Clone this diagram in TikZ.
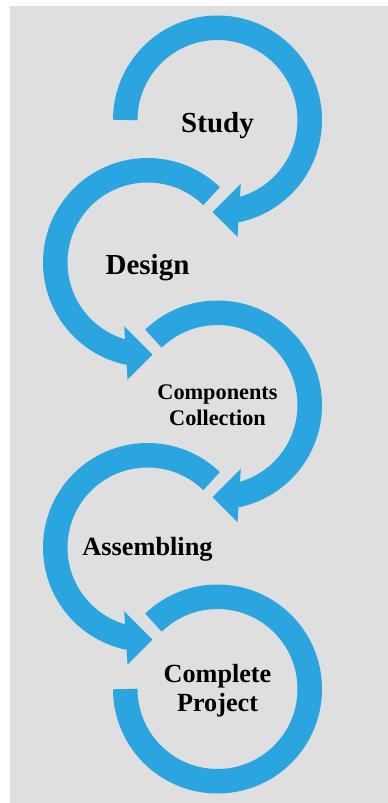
\documentclass[tikz,border=0pt]{standalone}
\usepackage{fontspec}
\setmainfont{Liberation Serif}
\usetikzlibrary{calc}
\definecolor{ringblue}{RGB}{43,165,223}
\definecolor{bggrey}{RGB}{223,223,223}
\begin{document}
\begin{tikzpicture}[x=1pt,y=1pt,
  ring/.style={draw=ringblue,line width=24.5pt,line cap=butt},
  headR/.style={fill=ringblue},
  label/.style={font=\bfseries,text=black,inner sep=0pt,align=center}]
\useasboundingbox (0,0) rectangle (388,-803);
\fill[white] (0,0) rectangle (388,-803);
\fill[bggrey] (10,-6) rectangle (388,-803);
% centres
\coordinate (c1) at (217.5,-120);
\coordinate (c2) at (147.5,-262.5);
\coordinate (c3) at (217.5,-405);
\coordinate (c4) at (147.5,-547.5);
\coordinate (c5) at (217.5,-689);
% ring 1 (Study)
\draw[ring] (c1) ++(180:92.25) arc[start angle=180,end angle=-78.5,radius=92.25];
\fill[headR] ($(c1)+(23.3,-63.8)$) -- ($(c1)+(-5,-92)$) -- ($(c1)+(20,-117)$) -- cycle;
% ring 2 (Design)
\draw[ring] (c2) ++(46:92.25) arc[start angle=46,end angle=258.5,radius=92.25];
\fill[headR] ($(c2)+(-23.3,-63.8)$) -- ($(c2)+(5,-92)$) -- ($(c2)+(-20,-117)$) -- cycle;
% ring 3 (Components)
\draw[ring] (c3) ++(134:92.25) arc[start angle=134,end angle=-78.5,radius=92.25];
\fill[headR] ($(c3)+(23.3,-63.8)$) -- ($(c3)+(-5,-92)$) -- ($(c3)+(20,-117)$) -- cycle;
% ring 4 (Assembling)
\draw[ring] (c4) ++(46:92.25) arc[start angle=46,end angle=258.5,radius=92.25];
\fill[headR] ($(c4)+(-23.3,-63.8)$) -- ($(c4)+(5,-92)$) -- ($(c4)+(-20,-117)$) -- cycle;
% ring 5 (Complete project)
\draw[ring] (c5) ++(134:92.25) arc[start angle=134,end angle=-180,radius=92.25];
% labels
\node[label,anchor=base,font=\bfseries\fontsize{29}{34}\selectfont] (study) at (217.5,-132.3) {Study};
\node[label,anchor=base,font=\bfseries\fontsize{29}{34}\selectfont] (design) at (147.5,-274) {Design};
\node[label,anchor=base,font=\bfseries\fontsize{22.3}{26}\selectfont] (comp1) at (217.5,-399.3) {Components};
\node[label,anchor=base,font=\bfseries\fontsize{22.3}{26}\selectfont] (comp2) at (217.5,-425) {Collection};
\node[label,anchor=base,font=\bfseries\fontsize{26.3}{30}\selectfont] (assem) at (147.5,-555.5) {Assembling};
\node[label,anchor=base,font=\bfseries\fontsize{26.2}{30}\selectfont] (compl1) at (217.5,-682.3) {Complete};
\node[label,anchor=base,font=\bfseries\fontsize{26.2}{30}\selectfont] (compl2) at (217.5,-711.7) {Project};
\end{tikzpicture}
\end{document}
